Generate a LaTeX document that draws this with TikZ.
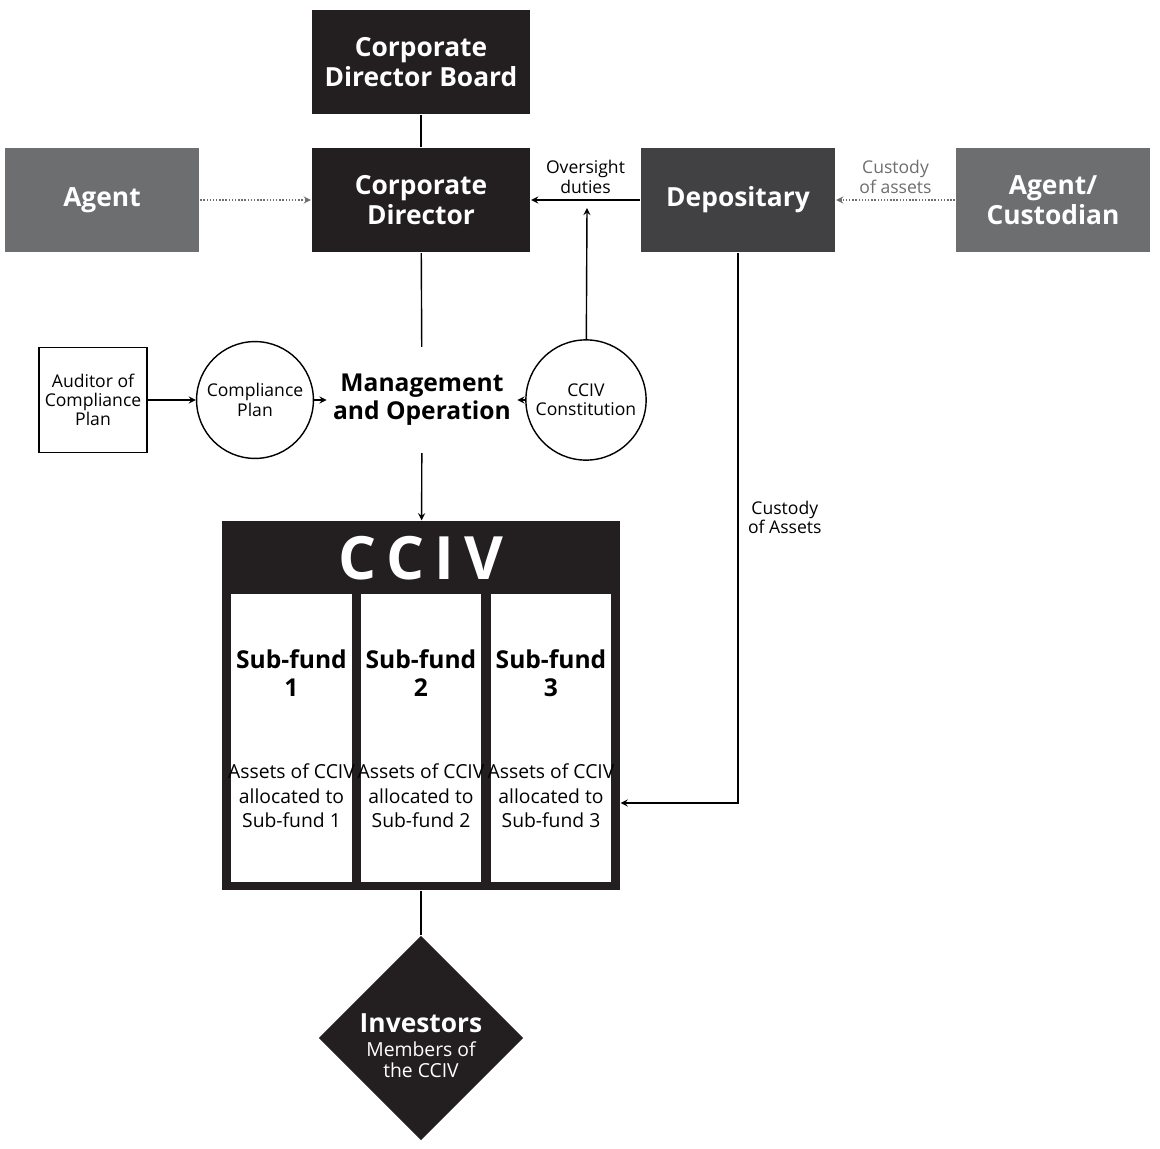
\documentclass[tikz,border=0pt]{standalone}
\usepackage{fontspec}
\setmainfont{Open Sans}
\usetikzlibrary{arrows,shapes.geometric,positioning}
\definecolor{darkbox}{HTML}{231F20}
\definecolor{midbox}{HTML}{414042}
\definecolor{greybox}{HTML}{6D6E70}
\tikzset{box style/.style={draw=none,text=white,font=\bfseries\fontsize{15}{17}\selectfont,align=center,minimum width=4.38cm,minimum height=2.1cm},
	sub style/.style={fill=white,minimum width=2.42cm,minimum height=5.76cm,inner sep=0pt},
	ring style/.style={circle,draw,thick,minimum size=2.1cm,align=center,font=\fontsize{10}{11}\selectfont}}

\begin{document}
\begin{tikzpicture}[x=0.02cm,y=-0.02cm,>=stealth,thick]
	\useasboundingbox (0,0) rectangle (1160,1149);

	\node[box style,fill=darkbox] (board) at (421,62) {Corporate\\Director Board};
	\node[box style,fill=darkbox] (dir) at (421,200) {Corporate\\Director};
	\node[box style,fill=greybox,minimum width=3.9cm] (agent) at (102,200) {Agent};
	\node[box style,fill=midbox,minimum width=3.9cm] (dep) at (738,200) {Depositary};
	\node[box style,fill=greybox,minimum width=3.9cm] (cust) at (1053,200) {Agent/\\Custodian};

	\node[font=\bfseries\fontsize{14}{16}\selectfont,align=center,minimum width=2.6cm,minimum height=2.1cm] (mgmt) at (422,400) {Management\\and Operation};
	\node[draw,thick,align=center,font=\fontsize{10}{11}\selectfont,minimum size=2.1cm] (aud) at (93,400) {Auditor of\\Compliance\\Plan};
	\node[ring style] (comp) at (255,400) {Compliance\\Plan};
	\node[ring style] (const) at (586,400) {CCIV\\Constitution};

	% CCIV block
	\node[fill=darkbox,minimum width=7.96cm,minimum height=7.38cm,inner sep=0pt] (cciv) at (421,705.5) {};
	\node[text=white,font=\bfseries\fontsize{34}{36}\selectfont] (title) at (421,558) {C\,C\,I\,V};
	\foreach \n/\x in {1/291.5,2/421,3/551}{
		\node[sub style] (s\n) at (\x,738) {};
		\node[font=\bfseries\fontsize{14}{16}\selectfont,align=center] (h\n) at (\x,673) {Sub-fund\\\n};
		\node[font=\fontsize{11}{14}\selectfont,align=center] (a\n) at (\x,796) {Assets of CCIV\\allocated to\\Sub-fund \n};
	}

	\node[diamond,fill=darkbox,minimum size=4.1cm,inner sep=0pt] (inv) at (421,1038) {};
	\node[text=white,font=\bfseries\fontsize{15}{17}\selectfont] (invname) at (421,1023) {Investors};
	\node[text=white,font=\fontsize{11}{12}\selectfont,align=center] (invnote) at (421,1060) {Members of\\the CCIV};

	\coordinate (tap) at (587,208);
	\coordinate (bend) at (738,803);

	\draw (board) -- (dir);
	\draw (dir) -- (mgmt);
	\draw[->,densely dotted,greybox] (agent) -- (dir);
	\draw[->] (dep) -- node[above,font=\fontsize{10}{11}\selectfont,align=center] {Oversight\\duties} (dir);
	\draw[->] (const) -- (tap);
	\draw[->,densely dotted,greybox] (cust) -- node[above,font=\fontsize{10}{11}\selectfont,align=center] {Custody\\of assets} (dep);
	\draw[->] (aud) -- (comp);
	\draw[->] (comp) -- (mgmt);
	\draw[->] (const) -- (mgmt);
	\draw[->] (mgmt) -- (cciv);
	\draw[->] (dep) -- node[pos=0.48,right,font=\fontsize{10}{11}\selectfont,align=center,xshift=2pt] {Custody\\of Assets} (bend) -- (cciv.east |- bend);
	\draw (cciv) -- (inv);
\end{tikzpicture}
\end{document}
